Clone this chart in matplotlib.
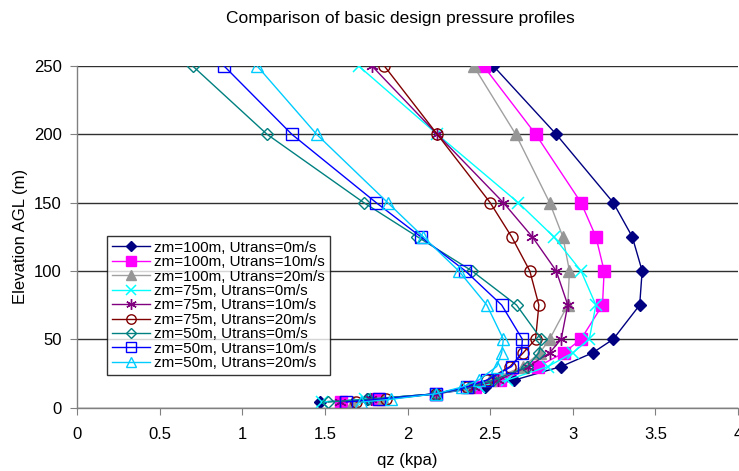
import matplotlib
matplotlib.use("Agg")
import matplotlib.pyplot as plt

plt.rcParams['font.family'] = ['Liberation Sans', 'DejaVu Sans']

heights = [250, 200, 150, 125, 100, 75, 50, 40, 30, 20, 15, 10, 6, 4]

labels = [
    "zm=100m, Utrans=0m/s",
    "zm=100m, Utrans=10m/s",
    "zm=100m, Utrans=20m/s",
    "zm=75m, Utrans=0m/s",
    "zm=75m, Utrans=10m/s",
    "zm=75m, Utrans=20m/s",
    "zm=50m, Utrans=0m/s",
    "zm=50m, Utrans=10m/s",
    "zm=50m, Utrans=20m/s",
]

zm100_u0 = [2.52, 2.90, 3.245, 3.36, 3.42, 3.405, 3.245, 3.12, 2.93, 2.645, 2.47, 2.17, 1.755, 1.47]
zm100_u10 = [2.46, 2.776, 3.05, 3.14, 3.19, 3.18, 3.05, 2.945, 2.79, 2.56, 2.41, 2.17, 1.82, 1.60]
zm100_u20 = [2.40, 2.655, 2.86, 2.94, 2.98, 2.97, 2.86, 2.80, 2.70, 2.50, 2.37, 2.17, 1.85, 1.67]
zm75_u0 = [1.705, 2.18, 2.67, 2.885, 3.05, 3.14, 3.10, 3.00, 2.85, 2.60, 2.43, 2.17, 1.745, 1.48]
zm75_u10 = [1.785, 2.18, 2.58, 2.755, 2.90, 2.97, 2.93, 2.86, 2.73, 2.55, 2.40, 2.17, 1.78, 1.59]
zm75_u20 = [1.86, 2.18, 2.50, 2.63, 2.74, 2.795, 2.775, 2.70, 2.62, 2.48, 2.36, 2.17, 1.87, 1.69]
zm50_u0 = [0.70, 1.15, 1.735, 2.06, 2.39, 2.66, 2.81, 2.795, 2.725, 2.52, 2.38, 2.17, 1.76, 1.52]
zm50_u10 = [0.89, 1.30, 1.81, 2.08, 2.35, 2.57, 2.695, 2.69, 2.63, 2.48, 2.36, 2.17, 1.83, 1.63]
zm50_u20 = [1.09, 1.45, 1.88, 2.095, 2.31, 2.48, 2.58, 2.57, 2.54, 2.43, 2.33, 2.17, 1.90, 1.72]

series = [zm100_u0, zm100_u10, zm100_u20, zm75_u0, zm75_u10, zm75_u20, zm50_u0, zm50_u10, zm50_u20]

styles = [
    dict(color='#000080', marker='D', ms=6, mfc='#000080', mec='#000080'),
    dict(color='#FF00FF', marker='s', ms=8, mfc='#FF00FF', mec='#FF00FF'),
    dict(color='#A0A0A0', marker='^', ms=8, mfc='#969696', mec='#969696'),
    dict(color='#00FFFF', marker='x', ms=8, mfc='none', mec='#00FFFF', mew=1.1),
    dict(color='#800080', marker=(6, 2, 0), ms=9, mfc='none', mec='#800080', mew=1.0),
    dict(color='#800000', marker='o', ms=8, mfc='none', mec='#800000', mew=1.0),
    dict(color='#008080', marker='D', ms=6, mfc='none', mec='#008080', mew=1.0),
    dict(color='#0000FF', marker='s', ms=8, mfc='none', mec='#0000FF', mew=1.0),
    dict(color='#00CCFF', marker='^', ms=8, mfc='none', mec='#00CCFF', mew=1.0),
]

fig = plt.figure(figsize=(7.39, 4.71), dpi=100)
ax = fig.add_axes([77/739, 1 - 407.5/471, (738 - 77)/739, (407.5 - 66)/471])

for vals, lab, st in zip(series, labels, styles):
    ax.plot(vals, heights, lw=1.0, label=lab, **st)

ax.set_xlim(0, 4)
ax.set_ylim(0, 250)
ax.set_xticks([0, 0.5, 1, 1.5, 2, 2.5, 3, 3.5, 4])
ax.set_xticklabels(['0', '0.5', '1', '1.5', '2', '2.5', '3', '3.5', '4'])
ax.set_yticks([0, 50, 100, 150, 200, 250])
ax.yaxis.grid(True, color='#303030', lw=1.0)
ax.set_axisbelow(True)
for s in ['top', 'right']:
    ax.spines[s].set_visible(False)
for s in ['left', 'bottom']:
    ax.spines[s].set_color('#808080')
    ax.spines[s].set_linewidth(1.0)
ax.tick_params(axis='both', direction='out', length=5, color='#808080', labelsize=12)
ax.tick_params(axis='x', pad=9)
ax.tick_params(axis='y', pad=6)

ax.set_xlabel('qz (kpa)', fontsize=12, labelpad=8)
ax.set_ylabel('Elevation AGL (m)', fontsize=12, labelpad=4)
fig.text(400/739, 1 - 18/471, 'Comparison of basic design pressure profiles', ha='center', va='center', fontsize=12.5)

leg = ax.legend(loc='upper left', bbox_to_anchor=((107 - 77)/661, (407.5 - 236)/341.5),
                frameon=True, fancybox=False, edgecolor='black', fontsize=11,
                handlelength=2.5, labelspacing=0.03, borderpad=0.3, handletextpad=0.3,
                borderaxespad=0, markerscale=0.85)
leg.get_frame().set_linewidth(1.0)

fig.savefig('out.png', dpi=100)
